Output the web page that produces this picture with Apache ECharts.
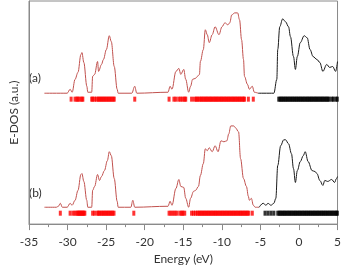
<!DOCTYPE html>
<html><head><meta charset="utf-8">
<script src="https://cdn.jsdelivr.net/npm/echarts@6/dist/echarts.min.js"></script>
<style>html,body{margin:0;padding:0;background:#fff}#c{width:344px;height:270px}</style>
</head><body><div id="c"></div>
<script>
// Energies (eV) and DOS heights for curve (a)
const energyA = [-33, -30.05, -29.67, -29.4, -29.03, -28.65, -28.27, -28.14, -27.89, -27.5, -27.38, -26.87, -26.75, -26.49, -26.11, -25.98, -25.6, -25.35, -24.97, -24.59, -24.33, -23.95, -23.57, -23.44, -21.67, -21.29, -21.03, -16.97, -16.71, -16.46, -15.95, -15.57, -15.32, -14.94, -14.68, -14.3, -14.05, -13.79, -13.41, -13.16, -12.9, -12.78, -12.4, -12.14, -11.89, -11.63, -11.25, -10.87, -10.37, -9.98, -9.6, -9.22, -8.97, -8.71, -8.33, -7.95, -7.7, -7.44, -7.19, -7.06, -6.68, -6.43, -6.05, -5.79, -5.29, -3.25, -2.87, -2.75, -2.49, -2.11, -1.73, -1.35, -1.1, -0.71, -0.46, -0.21, 0.17, 0.68, 1.06, 1.44, 1.83, 2.33, 2.71, 3.1, 3.6, 3.98, 4.37, 4.75, 5.0];
const dosA = [0, 0, 4, 1, 14, 21, 39, 41, 31, 7, 1, 1, 17, 19, 32, 22, 29, 34, 44, 58, 52, 27, 4, 0, 0, 7, 0, 1, 7, 4, 22, 25, 19, 24, 14, 1, 7, 14, 15, 17, 19, 32, 44, 64, 59, 51, 59, 67, 59, 67, 71, 69, 71, 79, 81, 81, 74, 54, 34, 17, 9, 4, 7, 1, 0, 0, 14, 44, 67, 75, 72, 67, 57, 37, 24, 37, 51, 58, 56, 44, 37, 34, 31, 22, 29, 26, 27, 22, 32];
// curve (b)
const energyB = [-33, -31.45, -31.19, -30.94, -30.68, -30.05, -29.67, -29.41, -29.03, -28.65, -28.27, -28.14, -27.89, -27.51, -27.38, -26.87, -26.75, -26.49, -26.11, -25.86, -25.6, -25.22, -24.84, -24.59, -24.33, -23.95, -23.57, -23.44, -21.79, -21.54, -21.29, -16.97, -16.71, -16.46, -15.95, -15.57, -15.32, -14.94, -14.68, -14.3, -14.05, -13.67, -13.41, -13.03, -12.78, -12.4, -12.14, -11.89, -11.63, -11.25, -10.87, -10.49, -10.11, -9.73, -9.35, -9.1, -8.84, -8.46, -8.21, -7.83, -7.57, -7.19, -6.81, -6.56, -6.43, -6.17, -5.92, -5.67, -5.16, -4.65, -4.27, -4.02, -3.63, -3.25, -3.0, -2.75, -2.37, -1.98, -1.73, -1.35, -0.97, -0.71, -0.46, -0.21, 0.17, 0.56, 0.81, 1.19, 1.7, 2.08, 2.33, 2.71, 3.1, 3.35, 3.73, 4.24, 4.62, 4.87, 5.0];
const dosB = [0, 0, 1, 4, 0, 0, 4, 2, 7, 17, 33, 34, 26, 7, 0, 0, 17, 21, 33, 27, 31, 37, 47, 56, 52, 29, 6, 0, 0, 7, 0, 1, 6, 2, 19, 28, 21, 20, 9, 0, 9, 16, 17, 21, 32, 44, 59, 57, 60, 56, 62, 56, 67, 66, 67, 74, 82, 82, 80, 76, 49, 29, 21, 11, 7, 9, 2, 0, 0, 4, 2, 4, 2, 4, 9, 42, 62, 68, 68, 64, 54, 39, 25, 37, 46, 52, 56, 46, 37, 36, 34, 27, 22, 27, 26, 28, 25, 29, 31];
// eigenvalue ticks (eV)
const levelsAocc = [-29.54, -29.03, -28.78, -28.65, -28.4, -28.14, -28.02, -26.87, -26.75, -26.49, -26.24, -25.98, -25.86, -25.6, -25.48, -25.22, -25.1, -24.84, -24.71, -24.46, -24.33, -24.08, -23.95, -21.29, -16.84, -16.21, -15.95, -15.57, -15.32, -15.06, -14.81, -14.68, -13.92, -13.54, -13.29, -13.16, -12.9, -12.72, -12.55, -12.36, -12.18, -12.0, -11.83, -11.64, -11.46, -11.3, -11.1, -10.93, -10.75, -10.58, -10.4, -10.21, -10.04, -9.86, -9.68, -9.5, -9.33, -9.14, -8.97, -8.78, -8.6, -8.43, -8.25, -8.07, -7.9, -7.71, -7.54, -7.36, -7.18, -7.06, -6.56, -5.92];
const levelsAvirt = [-2.62, -2.45, -2.27, -2.1, -1.92, -1.74, -1.56, -1.39, -1.2, -1.03, -0.85, -0.67, -0.5, -0.32, -0.14, 0.03, 0.21, 0.39, 0.56, 0.74, 0.92, 1.1, 1.27, 1.45, 1.62, 1.8, 1.98, 2.16, 2.33, 2.51, 2.69, 2.87, 3.04, 3.22, 3.4, 3.58, 3.75, 3.93, 4.28, 4.46, 4.81, 4.97];
const levelsBocc = [-30.94, -29.67, -29.29, -29.03, -28.78, -28.65, -28.52, -28.4, -28.27, -28.14, -28.02, -27.89, -27.76, -26.75, -26.49, -26.11, -25.98, -25.8, -25.6, -25.42, -25.24, -25.06, -24.88, -24.7, -24.52, -24.34, -24.16, -23.98, -21.41, -16.84, -16.59, -16.33, -16.08, -15.83, -15.44, -15.19, -15.06, -14.81, -13.92, -13.67, -13.41, -13.16, -12.98, -12.8, -12.62, -12.44, -12.26, -12.08, -11.9, -11.72, -11.54, -11.36, -11.18, -11.0, -10.82, -10.64, -10.46, -10.28, -10.1, -9.92, -9.74, -9.56, -9.38, -9.2, -9.02, -8.84, -8.66, -8.48, -8.3, -8.12, -7.94, -7.76, -7.58, -7.4, -7.22, -7.04, -6.86, -6.68, -6.5, -6.05];
const levelsBvirt = [-4.4, -4.02, -3.63, -3.25, -2.75, -2.57, -2.4, -2.22, -2.04, -1.87, -1.69, -1.51, -1.33, -1.16, -0.98, -0.8, -0.62, -0.45, -0.27, -0.09, 0.08, 0.26, 0.44, 0.62, 0.79, 0.97, 1.15, 1.32, 1.5, 1.68, 1.86, 2.03, 2.21, 2.39, 2.56, 2.74, 2.92, 3.1, 3.27, 3.45, 3.63, 3.8, 3.98, 4.16, 4.33, 4.51, 4.69, 4.86, 4.98];
const xTicks = [-35, -30, -25, -20, -15, -10, -5, 0, 5];
const labels = ['(a)', '(b)'];

const SPLIT = -5;
const offA = 132, offB = 17, rugA = 126, rugB = 11;
const FONT = 'Lato';
const pair = (es, ds, off) => es.map((e, i) => [e, ds[i] + off]);
const occPart = pts => pts.filter(p => p[0] <= SPLIT);
const virtPart = pts => { const k = pts.filter(p => p[0] <= SPLIT).length; return pts.slice(k - 1); };
const rug = (ls, y) => ls.map(e => [e, y]);
const lineS = (data, color) => ({type: 'line', data, showSymbol: false, smooth: 0.35, smoothMonotone: 'x', lineStyle: {width: 1, color}, itemStyle: {color}, silent: true, z: 3});
const rugS = (data, color) => ({type: 'scatter', data, symbol: 'rect', symbolSize: [3, 5], itemStyle: {color}, silent: true, z: 2});

const A = pair(energyA, dosA, offA), B = pair(energyB, dosB, offB);
const RED = '#c0504d', BLK = '#1a1a1a';

const chart = echarts.init(document.getElementById('c'), null, {renderer: 'canvas'});
chart.setOption({
  animation: false,
  grid: {left: 23, right: 6, top: 1, bottom: 44, show: true, borderColor: '#8a8a8a', borderWidth: 1},
  xAxis: {type: 'value', min: xTicks[0], max: xTicks[xTicks.length - 1], interval: 5,
    name: 'Energy (eV)', nameLocation: 'middle', nameGap: 28,
    nameTextStyle: {fontFamily: FONT, fontSize: 12, color: '#333'},
    axisLine: {show: true, onZero: false, lineStyle: {color: '#8a8a8a'}},
    axisTick: {show: true, inside: false, length: 6, lineStyle: {color: '#8a8a8a'}},
    minorTick: {show: true, splitNumber: 2, length: 3, lineStyle: {color: '#8a8a8a'}},
    axisLabel: {fontFamily: FONT, fontSize: 12, color: '#333', margin: 12},
    splitLine: {show: false}},
  yAxis: {type: 'value', min: 0, max: 225, name: 'E-DOS (a.u.)', nameLocation: 'middle', nameGap: 9,
    nameTextStyle: {fontFamily: FONT, fontSize: 12, color: '#333'},
    axisLine: {show: true, onZero: false, lineStyle: {color: '#8a8a8a'}}, axisTick: {show: false}, axisLabel: {show: false}, splitLine: {show: false}},
  series: [
    lineS(occPart(A), RED),
    lineS(virtPart(A), BLK),
    lineS(occPart(B), RED),
    lineS(virtPart(B), BLK),
    rugS(rug(levelsAocc, rugA), '#ff0000'),
    rugS(rug(levelsAvirt, rugA), '#000000'),
    rugS(rug(levelsBocc, rugB), '#ff0000'),
    rugS(rug(levelsBvirt, rugB), '#000000')
  ],
  graphic: [
    {type: 'text', left: 29, top: 72, style: {text: labels[0], fontFamily: FONT, fontSize: 12, fill: '#333'}},
    {type: 'text', left: 29, top: 187, style: {text: labels[1], fontFamily: FONT, fontSize: 12, fill: '#333'}}
  ]
});
</script></body></html>
